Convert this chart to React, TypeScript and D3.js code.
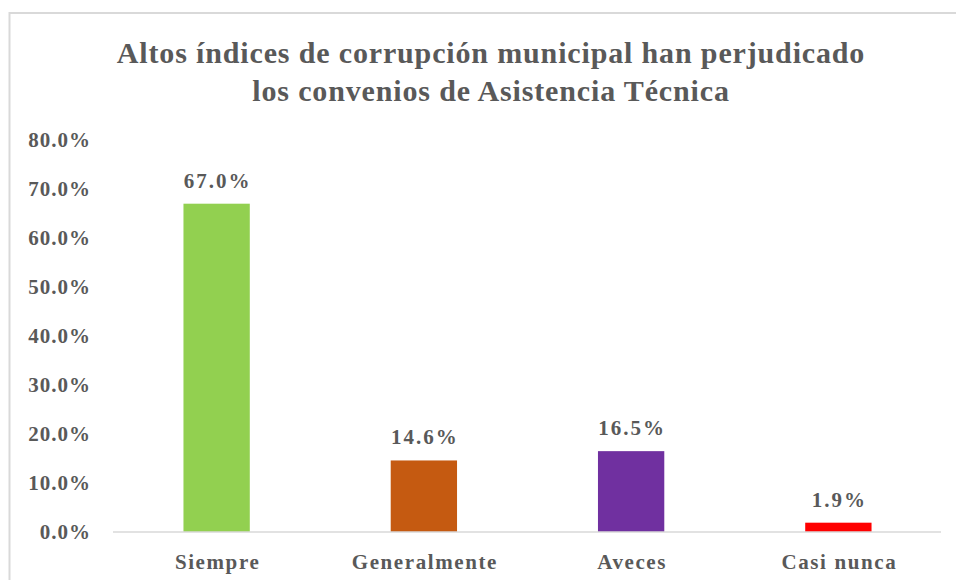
import React, { useEffect } from 'react';
import * as d3 from 'd3';

const categories = ['Siempre', 'Generalmente', 'Aveces', 'Casi nunca'];
const values = [0.67, 0.146, 0.165, 0.019];
const barColors = ['#92d050', '#c55a11', '#7030a0', '#ff0000'];
const yTicks = [0, 0.1, 0.2, 0.3, 0.4, 0.5, 0.6, 0.7, 0.8];
const titleLines = ['Altos índices de corrupción municipal han perjudicado', 'los convenios de Asistencia Técnica'];

const W = 956;
const H = 580;
const textColor = '#595959';
const font = '"Liberation Serif", "Times New Roman", serif';

export default function App() {
  useEffect(() => {
    document.body.style.margin = '0';
  }, []);

  const x = d3.scaleBand<string>()
    .domain(categories)
    .range([113, 942])
    .paddingInner(0.68)
    .paddingOuter(0.34);

  const y = d3.scaleLinear()
    .domain([0, 0.8])
    .range([532, 140]);

  const fmt = d3.format('.1%');

  return (
    <svg width={W} height={H} style={{ display: 'block', background: '#fff' }} fontFamily={font}>
      <rect x={9.5} y={13} width={W + 20} height={H + 20} fill="#fff" stroke="#d9d9d9" strokeWidth={2} />

      <g fontWeight="bold" fill={textColor} fontSize={30} textAnchor="middle" letterSpacing={0.85}>
        {titleLines.map((t, i) => (
          <text key={i} x={491} y={63 + i * 38}>{t}</text>
        ))}
      </g>

      <g fontWeight="bold" fill={textColor} fontSize={21} textAnchor="end" letterSpacing={1}>
        {yTicks.map(t => (
          <text key={t} x={91} y={y(t)} dy="0.35em">{fmt(t)}</text>
        ))}
      </g>

      {categories.map((c, i) => (
        <rect key={c} x={x(c)} y={y(values[i])} width={x.bandwidth()} height={y(0) - y(values[i])} fill={barColors[i]} />
      ))}

      <line x1={113} x2={941} y1={y(0)} y2={y(0)} stroke="#d9d9d9" strokeWidth={1.5} />

      <g fontWeight="bold" fill={textColor} fontSize={21} textAnchor="middle" letterSpacing={2}>
        {categories.map((c, i) => (
          <text key={c} x={x(c)! + x.bandwidth() / 2 + 1} y={y(values[i]) - 16}>{fmt(values[i])}</text>
        ))}
      </g>

      <g fontWeight="bold" fill={textColor} fontSize={21} textAnchor="middle" letterSpacing={1.6}>
        {categories.map(c => (
          <text key={c} x={x(c)! + x.bandwidth() / 2 + 1} y={569}>{c}</text>
        ))}
      </g>
    </svg>
  );
}
